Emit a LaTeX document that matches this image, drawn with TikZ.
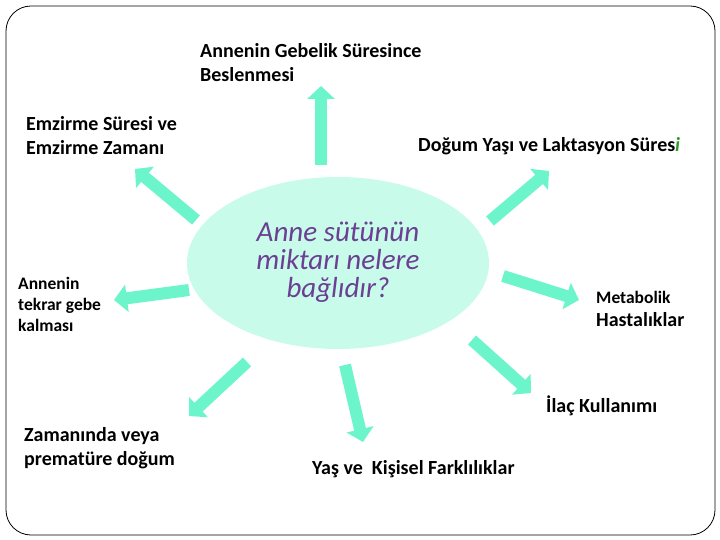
\documentclass[tikz,border=0pt]{standalone}
\usepackage{fontspec}
\setmainfont{Carlito}
\usetikzlibrary{arrows.meta,shapes.geometric}
\definecolor{aqua}{HTML}{6CF5CB}
\definecolor{mint}{HTML}{C8FBEA}
\definecolor{qpurple}{HTML}{6B3F92}
\definecolor{igreen}{HTML}{2E9A2E}
\tikzset{
  blockarrow/.style={draw=aqua, line width=12pt,
    -{Triangle[length=13pt,width=27pt]}},
  lbl/.style={anchor=base west, inner sep=0pt, align=left, font=\fontsize{20}{24}\selectfont\bfseries},
  slbl/.style={anchor=base west, inner sep=0pt, align=left, font=\fontsize{17.5}{21}\selectfont\bfseries},
}
\begin{document}
\begin{tikzpicture}[x=1pt,y=-1pt]
\useasboundingbox (0,0) rectangle (720,540);
\draw[rounded corners=25pt, line width=0.8pt] (6,6) rectangle (715,535);
\node[ellipse, fill=mint, minimum width=302pt, minimum height=172pt, inner sep=0pt] (c) at (338,263) {};
\node[anchor=base, align=center, inner sep=0pt, text=qpurple, font=\fontsize{29}{28}\selectfont\itshape] (q) at (338,297) {Anne sütünün\\miktarı nelere\\bağlıdır?};
% arrow end points
\coordinate (a1s) at (321,165); \coordinate (a1e) at (321,86);
\coordinate (a2s) at (196,220); \coordinate (a2e) at (135,169);
\coordinate (a3s) at (490,221); \coordinate (a3e) at (549,171);
\coordinate (a4s) at (189,290); \coordinate (a4e) at (114,300);
\coordinate (a5s) at (503,276); \coordinate (a5e) at (579,300);
\coordinate (a6s) at (247,362); \coordinate (a6e) at (189,416);
\coordinate (a7s) at (345,365); \coordinate (a7e) at (363,442);
\coordinate (a8s) at (472,340); \coordinate (a8e) at (531,393);
\foreach \i in {1,...,8} {\draw[blockarrow] (a\i s) -- (a\i e);}
% labels
\node[lbl] (t1) at (200,82) {Annenin Gebelik Süresince\\Beslenmesi};
\node[lbl] (t2) at (26,155) {Emzirme Süresi ve\\Emzirme Zamanı};
\node[lbl] (t3) at (418,152) {Doğum Yaşı ve Laktasyon Süres\textcolor{igreen}{\itshape i}};
\node[slbl] (t4) at (18,331) {Annenin\\tekrar gebe\\kalması};
\node[anchor=base west, inner sep=0pt, font=\fontsize{17.5}{17.5}\selectfont\bfseries] (t5) at (596,303) {Metabolik};
\node[anchor=base west, inner sep=0pt, font=\fontsize{20}{20}\selectfont\bfseries] (t5b) at (596,326) {Hastalıklar};
\node[anchor=base west, inner sep=0pt, font=\fontsize{20}{20}\selectfont\bfseries] (t6) at (546,412) {İlaç Kullanımı};
\node[lbl] (t7) at (24,465) {Zamanında veya\\prematüre doğum};
\node[lbl] (t8) at (312,474) {Yaş ve\ \ Kişisel Farklılıklar};
\end{tikzpicture}
\end{document}
